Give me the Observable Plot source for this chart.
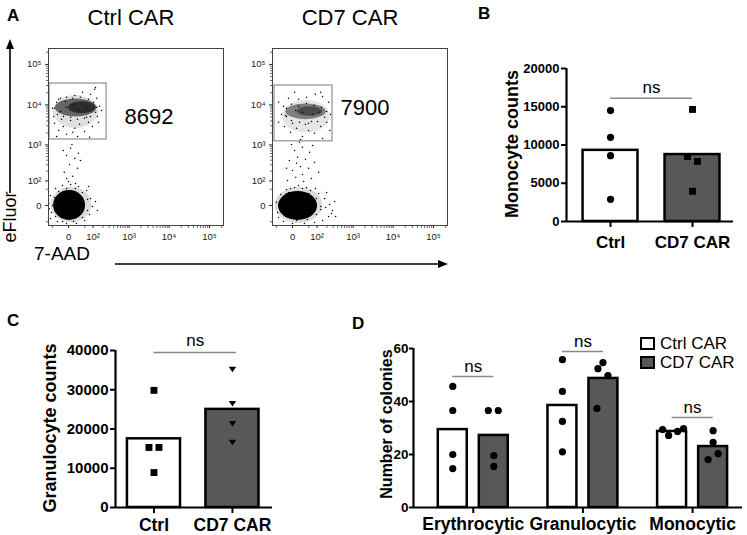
<!DOCTYPE html>
<html><head><meta charset="utf-8">
<script src="https://cdn.jsdelivr.net/npm/d3@7"></script>
<script src="https://cdn.jsdelivr.net/npm/@observablehq/plot@0.6"></script>
<style>
html,body{margin:0;padding:0;background:#fff;}
#fig{position:relative;width:747px;height:535px;overflow:hidden;background:#fff;font-family:"Liberation Sans",Arial,Helvetica,sans-serif;color:#000;}
.abs{position:absolute;white-space:nowrap;line-height:1;}
</style></head><body><div id="fig"></div>
<script>
const FONT = '"Liberation Sans", Arial, Helvetica, sans-serif';

// ---------- Panel A (flow cytometry) ----------
const flowSamples = ["Ctrl CAR", "CD7 CAR"];
const gateCounts = ["8692", "7900"];
const flowMajorTicks = [0, 100, 1000, 10000, 100000];
const flowMinorTicks = [-50, 50, 200, 300, 400, 500, 600, 700, 800, 900, 2000, 3000, 4000, 5000, 6000, 7000, 8000, 9000, 20000, 30000, 40000, 50000, 60000, 70000, 80000, 90000, 200000];
const ctrlGate = {x1: -64, x2: 254, y1: 1370, y2: 33700};
const cd7Gate = {x1: -59, x2: 287, y1: 1228, y2: 30170};
// population extents (7-AAD, eFluor) and their density
const ctrlPopulations = [
  {x1: -56, x2: 92, y1: -56, y2: 60, density: 0.14},
  {x1: -44, x2: 54, y1: -44, y2: 44, density: 1},
  {x1: -45, x2: 150, y1: 2600, y2: 17000, density: 0.12},
  {x1: -36, x2: 130, y1: 5000, y2: 14000, density: 0.55},
  {x1: 0, x2: 125, y1: 6000, y2: 12000, density: 0.55}
];
const cd7Populations = [
  {x1: -55, x2: 150, y1: -59, y2: 59, density: 0.14},
  {x1: -40, x2: 104, y1: -44, y2: 40, density: 1},
  {x1: -25, x2: 250, y1: 2000, y2: 13000, density: 0.1},
  {x1: -15, x2: 190, y1: 4300, y2: 10500, density: 0.45},
  {x1: 10, x2: 150, y1: 5200, y2: 9000, density: 0.4}
];
const ctrlEvents = [
  [-68,4],[-59,25],[-54,-16],[-36,54],[-13.5,70],[4,76],[25,64],[59,44],[82,16],[95,-2],[76,-22],[49,-44],[19,-59],[-4,-59],[-29,-49],[-59,-36],[120,8.5],[137,-11],[70,64],[-66,-6.5],
  [-49,0],[-40,19],[-25,40],[-4,54],[16,54],[40,36],[64,13.5],[64,-11],[40,-32],[11,-49],[-13.5,-49],[-36,-29],
  [4,816],[-4,532],[14,449],[2,308],[22,240],[-9,184],[9,140],[0,95],[32,393],[-11,718],[16,82],[7,1029],[25,606],[-4,120],
  [-49,8220],[-40,3480],[-25,2306],[-11,2920],[-4,1845],[4,4100],[14,2610],[29,3280],[49,2190],[70,3690],[95,2920],[137,5170],[160,9190],[131,14530],[82,18200],[40,20400],[14,17070],[-4,15400],[-25,13690],[-44,5170],[-16,4370],[22,1640],[59,4900],[184,7260],[113,24200],[-19,6900],[9,2080],[76,1560],[-32,1640],[149,3690],[120,27000],
  [-32,11570],[-19,14530],[-6.5,12200],[8.5,14530],[32,15400],[70,13690],[104,11570],[131,8700],[120,6530],[82,5170],[49,4630],[22,4370],[4,4900],[-11,5170],[-29,5800],[-40,8220],[25,7260],[-4,8700],[59,8700],[11,10300]
];
const cd7Events = [
  [-49,6.5],[-44,-16],[-32,29],[-13.5,49],[4,59],[25,54],[59,44],[113,32],[172,16],[240,2],[287,-11],[224,-29],[149,-44],[82,-54],[32,-59],[0,-59],[-22,-49],[-40,-32],[196,36],[330,8.5],[131,-8.5],[270,-19],[184,-4],[88,54],[350,-29],
  [-25,19],[-8.5,36],[13.5,40],[49,32],[95,16],[131,-2],[95,-22],[44,-40],[8.5,-44],[-16,-29],[-32,-6.5],
  [-4,54],[13.5,70],[40,59],[-11,104],[6.5,131],[25,160],[64,120],[0,208],[19,271],[49,240],[-6.5,393],[11,476],[36,421],[82,350],[4,718],[25,865],[-2,1029],[16,1162],[54,644],[-13.5,240],[113,184],[29,95],[8.5,330],[70,963],
  [-40,11570],[-29,5800],[-19,2920],[-4,2080],[8.5,2610],[25,1640],[49,2306],[82,1960],[131,2920],[196,3690],[255,5800],[224,11570],[149,16200],[88,18200],[40,15400],[13.5,13690],[-8.5,14530],[-22,9190],[0,3480],[64,3890],[113,6530],[-40,3690],[19,1370],[149,1460],[4,20400],[240,2306],[-13.5,5170],[36,3280],[131,20400],
  [-13.5,8220],[-2,10300],[13.5,9190],[40,10900],[82,9670],[137,8700],[196,6900],[172,4900],[104,3890],[49,3480],[16,3690],[-2,4100],[-16,5440],[25,6530],[70,5800],[6.5,7260]
];

// ---------- Panel B ----------
const groupsBC = ["Ctrl", "CD7 CAR"];
const monocyteMeans = [9300, 8750];
const ctrlMonocyte = [14500, 11000, 8600, 2900];
const cd7Monocyte = [14650, 8500, 7850, 3950];
const monocyteTicks = [0, 5000, 10000, 15000, 20000];
const monocyteSig = [{from: "Ctrl", to: "CD7 CAR", y: 16100, label: "ns"}];

// ---------- Panel C ----------
const granulocyteMeans = [17500, 25000];
const ctrlGranulocyte = [29850, 15300, 15300, 8900];
const cd7Granulocyte = [35200, 26500, 21400, 16600];
const granulocyteTicks = [0, 10000, 20000, 30000, 40000];
const granulocyteSig = [{from: "Ctrl", to: "CD7 CAR", y: 39500, label: "ns"}];

// ---------- Panel D ----------
const colonyTypes = ["Erythrocytic", "Granulocytic", "Monocytic"];
const colonySeries = ["Ctrl CAR", "CD7 CAR"];
const ctrlColonyMeans = [29.4, 38.5, 28.7];
const cd7ColonyMeans = [27.2, 48.7, 23.0];
const ctrlColonies = [[45.7, 36.6, 20.0, 14.7], [55.8, 43.8, 32.5, 21.0], [29.4, 27.2, 28.7, 29.8]];
const cd7Colonies = [[36.6, 36.6, 19.6, 15.5], [54.7, 52.4, 49.8, 37.4], [29.0, 24.6, 20.3, 18.1]];
const colonyTicks = [0, 20, 40, 60];
const colonySig = [{type: "Erythrocytic", y: 49.4, label: "ns"}, {type: "Granulocytic", y: 58.9, label: "ns"}, {type: "Monocytic", y: 34, label: "ns"}];

// ---------- helpers ----------
const fig = document.getElementById("fig");
const CTRL_FILL = "#ffffff", CD7_FILL = "#585858";

function addText(str, x, y, o = {}) {
  const d = document.createElement("div");
  d.className = "abs";
  d.textContent = str;
  d.style.left = x + "px"; d.style.top = y + "px";
  d.style.fontSize = (o.size || 12) + "px";
  d.style.fontWeight = o.weight || "normal";
  const tx = o.anchor === "start" ? "0" : o.anchor === "end" ? "-100%" : "-50%";
  d.style.transform = `translate(${tx},-50%)` + (o.rotate ? ` rotate(${o.rotate}deg)` : "");
  fig.appendChild(d);
}
function place(svg, left, top) {
  svg.style.position = "absolute";
  svg.style.left = left + "px";
  svg.style.top = top + "px";
  fig.appendChild(svg);
}
const sup = {"2": "²", "3": "³", "4": "⁴", "5": "⁵"};
const fmtFlow = d => d === 0 ? "0" : "10" + sup[String(Math.round(Math.log10(d)))];
const leftTick = {draw(ctx) { ctx.moveTo(0, 0); ctx.lineTo(-2.5, 0); }};
const downTick = {draw(ctx) { ctx.moveTo(0, 0); ctx.lineTo(0, 2.5); }};
const triDown = {draw(ctx, size) { const r = Math.sqrt(size / Math.PI); ctx.moveTo(-r * 1.1, -r * 0.75); ctx.lineTo(r * 1.1, -r * 0.75); ctx.lineTo(0, r * 0.85); ctx.closePath(); }};

function flowPanel(events, populations, gate, left, ml, mr) {
  const svg = Plot.plot({
    width: 220, height: 210, marginLeft: ml, marginRight: mr, marginTop: 8, marginBottom: 25,
    style: {fontFamily: FONT, fontSize: "9.5px", color: "#222", background: "transparent", overflow: "visible"},
    x: {type: "symlog", constant: 33, domain: [-70, 221000], ticks: flowMajorTicks, tickFormat: fmtFlow, tickSize: 3, tickPadding: 5, label: null},
    y: {type: "symlog", constant: 33, domain: [-70, 247000], ticks: flowMajorTicks, tickFormat: fmtFlow, tickSize: 3, tickPadding: 4, label: null},
    opacity: {type: "identity"},
    marks: [
      Plot.rect(populations, {x1: "x1", x2: "x2", y1: "y1", y2: "y2", fill: "#000", fillOpacity: "density", rx: 999, ry: 999}),
      Plot.dot(events, {x: d => d[0], y: d => d[1], r: 0.75, fill: "#000", stroke: "none"}),
      Plot.rect([gate], {x1: "x1", x2: "x2", y1: "y1", y2: "y2", fill: "none", stroke: "#7a7a7a", strokeWidth: 1}),
      Plot.frame({stroke: "#444"}),
      Plot.dot(flowMinorTicks, {y: d => d, frameAnchor: "left", symbol: leftTick, fill: "none", stroke: "#444", strokeWidth: 0.8}),
      Plot.dot(flowMinorTicks, {x: d => d, frameAnchor: "bottom", symbol: downTick, fill: "none", stroke: "#444", strokeWidth: 0.8})
    ]
  });
  place(svg, left, 40);
}

function fixAxes(svg, xFont, yFont) {
  svg.querySelectorAll('[aria-label^="x-axis"]').forEach(g => g.setAttribute("font-size", xFont));
  svg.querySelectorAll('[aria-label^="y-axis"]').forEach(g => g.setAttribute("font-size", yFont));
  svg.querySelectorAll('[aria-label^="x-axis"] line,[aria-label^="x-axis"] path,[aria-label^="y-axis"] line,[aria-label^="y-axis"] path')
    .forEach(e => e.setAttribute("stroke-width", "2"));
}

function barPanel(c) {
  const marks = [
    Plot.rectY(c.ctrlBars, {x1: d => d.x - c.hw, x2: d => d.x + c.hw, y: "value", fill: CTRL_FILL, stroke: "#000", strokeWidth: 2.5}),
    Plot.rectY(c.cd7Bars, {x1: d => d.x - c.hw, x2: d => d.x + c.hw, y: "value", fill: CD7_FILL, stroke: "#000", strokeWidth: 2.5}),
    Plot.ruleX([c.xDomain[0]], {y1: 0, y2: c.yMax, stroke: "#000", strokeWidth: 2.2}),
    Plot.ruleY([0], {stroke: "#000", strokeWidth: 2.2}),
    ...c.points.map(p => Plot.dot(p.data, {x: "x", y: "value", symbol: p.symbol, r: p.r, fill: "#000", stroke: "none"})),
    Plot.ruleY(c.sig, {x1: "x1", x2: "x2", y: "y", stroke: "#8a8a8a", strokeWidth: 1.5}),
    Plot.text(c.sig, {x: d => (d.x1 + d.x2) / 2, y: "y", text: "label", dy: c.nsDy, fontSize: 17, fontWeight: "normal", fill: "#000"})
  ];
  const svg = Plot.plot({
    width: c.width, height: c.height, marginLeft: c.ml, marginRight: c.mr, marginTop: c.mt, marginBottom: c.mb,
    style: {fontFamily: FONT, fontWeight: "bold", fontSize: c.yFont + "px", color: "#000", background: "transparent", overflow: "visible"},
    x: {domain: c.xDomain, ticks: c.xTicks, tickFormat: c.xFormat, tickSize: 6, tickPadding: c.xPad, label: null},
    y: {domain: [0, c.yMax], ticks: c.yTicks, tickFormat: d => String(d), tickSize: c.yTick || 5, tickPadding: c.yPad || 2, label: null},
    marks
  });
  fixAxes(svg, c.xFont, c.yFont);
  place(svg, c.left, c.top);
}

// ---------- draw Panel A ----------
flowPanel(ctrlEvents, ctrlPopulations, ctrlGate, 10, 38, 7);
flowPanel(cd7Events, cd7Populations, cd7Gate, 235, 37, 8);

// arrows
const ns = "http://www.w3.org/2000/svg";
const arr = document.createElementNS(ns, "svg");
arr.setAttribute("width", 747); arr.setAttribute("height", 535);
arr.style.position = "absolute"; arr.style.left = "0"; arr.style.top = "0"; arr.style.pointerEvents = "none";
arr.innerHTML = '<line x1="10" y1="193" x2="10" y2="46" stroke="#000" stroke-width="1.6"/><path d="M10,39 L6,49 L14,49 Z" fill="#000"/>' +
  '<line x1="115" y1="264" x2="441" y2="264" stroke="#000" stroke-width="1.6"/><path d="M448,264 L438,260 L438,268 Z" fill="#000"/>';
fig.appendChild(arr);

addText("A", 7, 15, {size: 17, weight: "bold", anchor: "start"});
addText(flowSamples[0], 131, 18, {size: 22});
addText(flowSamples[1], 350, 18, {size: 22});
addText(gateCounts[0], 149, 117, {size: 22});
addText(gateCounts[1], 365, 108, {size: 22});
addText("eFluor", 10, 217, {size: 18, rotate: -90});
addText("7-AAD", 62, 253, {size: 19});

// ---------- Panel B ----------
{
  const jit = [[0, 0, 0, 0], [0, -5, 5, 0]];
  const step = 82;
  barPanel({
    left: 440, top: 55, width: 300, height: 200, ml: 126, mr: 7, mt: 13, mb: 34,
    xDomain: [0.463, 2.5], hw: 0.335, yMax: 20000, yTicks: monocyteTicks, yFont: 13, xFont: 17, xPad: 8,
    xTicks: [1, 2], xFormat: i => groupsBC[i - 1],
    ctrlBars: [{x: 1, value: monocyteMeans[0]}], cd7Bars: [{x: 2, value: monocyteMeans[1]}],
    points: [
      {data: ctrlMonocyte.map((v, i) => ({x: 1 + jit[0][i] / step, value: v})), symbol: "circle", r: 3.6},
      {data: cd7Monocyte.map((v, i) => ({x: 2 + jit[1][i] / step, value: v})), symbol: "square", r: 3.9}
    ],
    sig: monocyteSig.map(s => ({x1: groupsBC.indexOf(s.from) + 1, x2: groupsBC.indexOf(s.to) + 1, y: s.y, label: s.label})),
    nsDy: -11
  });
}
addText("B", 478, 13, {size: 17, weight: "bold", anchor: "start"});
addText("Monocyte counts", 512, 144, {size: 18, weight: "bold", rotate: -90});

// ---------- Panel C ----------
{
  const jit = [[0, -5, 5, 0], [0, 0, 0, 0]];
  const step = 78.5;
  barPanel({
    left: 20, top: 335, width: 262, height: 200, ml: 95, mr: 10, mt: 15, mb: 28,
    xDomain: [0.51, 2.51], hw: 0.338, yMax: 40000, yTicks: granulocyteTicks, yFont: 15, xFont: 17.5, xPad: 5,
    xTicks: [1, 2], xFormat: i => groupsBC[i - 1],
    ctrlBars: [{x: 1, value: granulocyteMeans[0]}], cd7Bars: [{x: 2, value: granulocyteMeans[1]}],
    points: [
      {data: ctrlGranulocyte.map((v, i) => ({x: 1 + jit[0][i] / step, value: v})), symbol: "square", r: 3.9},
      {data: cd7Granulocyte.map((v, i) => ({x: 2 + jit[1][i] / step, value: v})), symbol: triDown, r: 3.4}
    ],
    sig: granulocyteSig.map(s => ({x1: groupsBC.indexOf(s.from) + 1, x2: groupsBC.indexOf(s.to) + 1.05, y: s.y, label: s.label})),
    nsDy: -12
  });
}
addText("C", 7, 320, {size: 17, weight: "bold", anchor: "start"});
addText("Granulocyte counts", 50, 428, {size: 18, weight: "bold", rotate: -90});

// ---------- Panel D ----------
{
  const step = 110, off = 0.187;
  const jitCtrl = [[0, 0, 0, 0], [0, 0, 0, 0], [-9.5, -3.5, 5.5, 11.5]];
  const jitCd7 = [[-5.5, 4.5, 0, 0], [-0.5, -5.5, 4.5, -6.5], [0, 0, 5, -5]];
  const ctrlPts = [], cd7Pts = [];
  colonyTypes.forEach((t, g) => {
    ctrlColonies[g].forEach((v, i) => ctrlPts.push({x: g + 1 - off + jitCtrl[g][i] / step, value: v}));
    cd7Colonies[g].forEach((v, i) => cd7Pts.push({x: g + 1 + off + jitCd7[g][i] / step, value: v}));
  });
  barPanel({
    left: 360, top: 330, width: 387, height: 205, ml: 53, mr: 5, mt: 18, mb: 28,
    xDomain: [0.455, 3.455], hw: 0.132, yMax: 60, yTicks: colonyTicks, yFont: 13.5, yTick: 4, yPad: 1, xFont: 17.5, xPad: 4,
    xTicks: [1, 2, 3], xFormat: i => colonyTypes[i - 1],
    ctrlBars: ctrlColonyMeans.map((v, g) => ({x: g + 1 - off, value: v})),
    cd7Bars: cd7ColonyMeans.map((v, g) => ({x: g + 1 + off, value: v})),
    points: [
      {data: ctrlPts, symbol: "circle", r: 3.6},
      {data: cd7Pts, symbol: "circle", r: 3.6}
    ],
    sig: colonySig.map(s => { const g = colonyTypes.indexOf(s.type) + 1; return {x1: g - off, x2: g + off, y: s.y, label: s.label}; }),
    nsDy: -10
  });
}
addText("D", 352, 323, {size: 17, weight: "bold", anchor: "start"});
addText("Number of colonies", 387, 424, {size: 16, weight: "bold", rotate: -90});
// legend
colonySeries.forEach((s, i) => {
  const b = document.createElement("div");
  b.className = "abs";
  b.style.left = "640px"; b.style.top = (337 + i * 19) + "px";
  b.style.width = "11px"; b.style.height = "9px";
  b.style.border = "2px solid #000";
  b.style.background = i === 0 ? CTRL_FILL : CD7_FILL;
  fig.appendChild(b);
  addText(s, 660, 343 + i * 19, {size: 17, anchor: "start"});
});
</script></body></html>
